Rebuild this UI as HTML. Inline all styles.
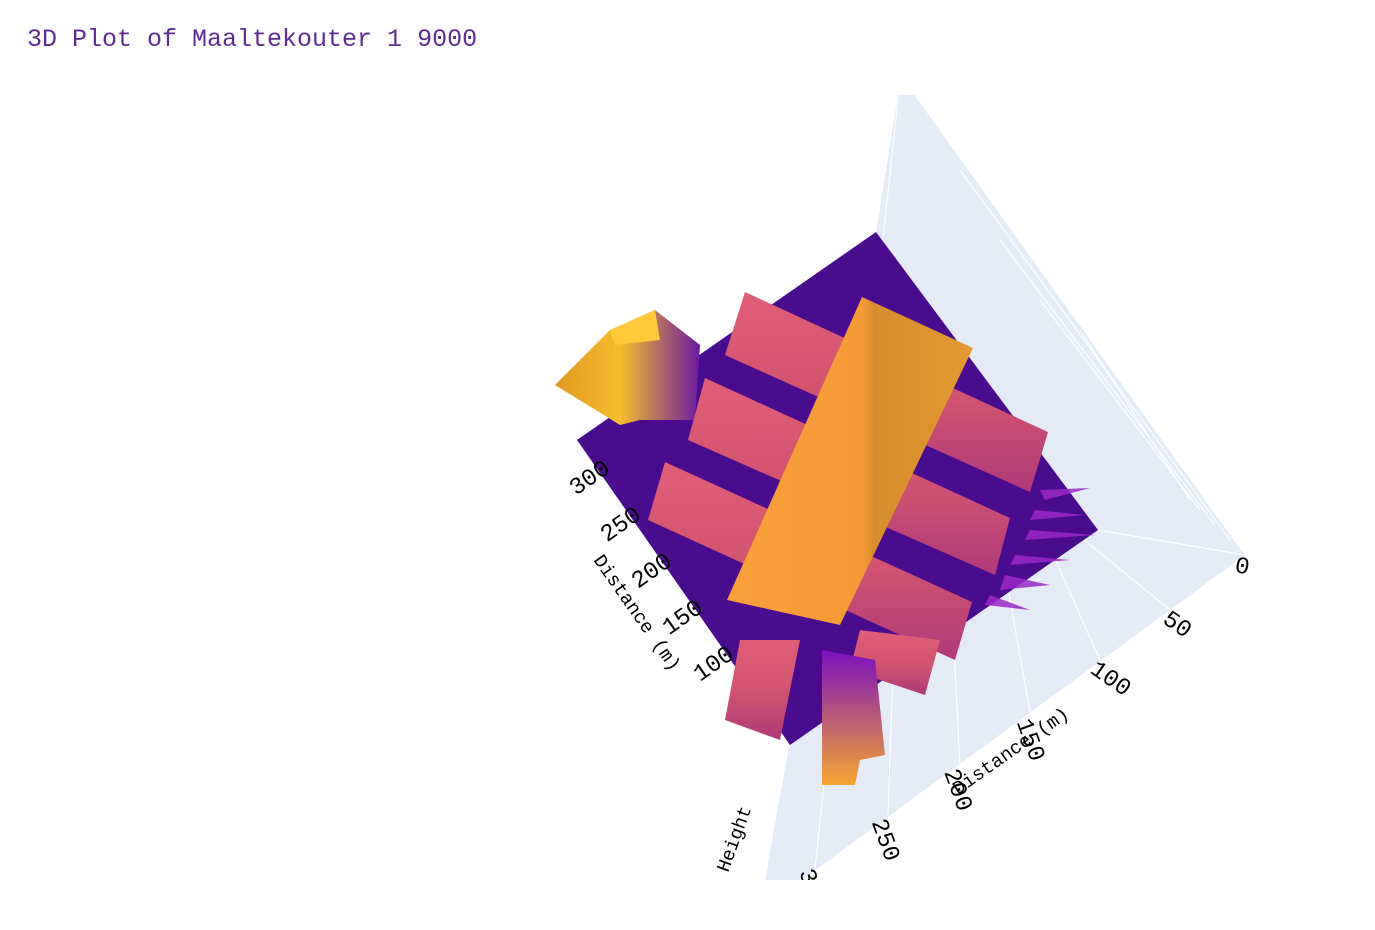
<!DOCTYPE html>
<html><head><meta charset="utf-8"><style>
body{margin:0;background:#fff;width:1375px;height:925px;overflow:hidden;font-family:"Liberation Mono",monospace}
</style></head><body>
<svg width="1375" height="925" xmlns="http://www.w3.org/2000/svg">
<defs>
<linearGradient id="og" x1="0" y1="0" x2="1" y2="0"><stop offset="0" stop-color="#f9a03a"/><stop offset="0.55" stop-color="#f59a36"/><stop offset="0.6" stop-color="#d58c2c"/><stop offset="1" stop-color="#e49a30"/></linearGradient>
<linearGradient id="pg" x1="0" y1="0" x2="0" y2="1"><stop offset="0" stop-color="#e05d76"/><stop offset="0.5" stop-color="#d3546f"/><stop offset="1" stop-color="#b0397a"/></linearGradient>
<linearGradient id="yg" x1="0" y1="0" x2="1" y2="0"><stop offset="0" stop-color="#e09a20"/><stop offset="0.45" stop-color="#f6bd2c"/><stop offset="1" stop-color="#6a1aa0"/></linearGradient>
<linearGradient id="sg" x1="0" y1="0" x2="0" y2="1"><stop offset="0" stop-color="#7a10c0"/><stop offset="1" stop-color="#f7a530"/></linearGradient>
<clipPath id="clip"><rect x="0" y="0" width="1375" height="880"/></clipPath>
</defs>
<text x="27" y="46" font-size="25" fill="#5c2d91" font-family="Liberation Mono, monospace">3D Plot of Maaltekouter 1 9000</text>
<g clip-path="url(#clip)">
<polygon points="898,95 915,95 1245,555 802,880 765,880 790,740 876,232" fill="#e5ebf6"/>
<g stroke="#fff" stroke-width="1" fill="none">
<line x1="1245" y1="555" x2="1098" y2="530"/><line x1="1170" y1="610" x2="1060" y2="520"/><line x1="1100" y1="660" x2="1020" y2="480"/><line x1="1030" y1="712" x2="980" y2="430"/><line x1="960" y1="765" x2="940" y2="380"/><line x1="888" y1="815" x2="905" y2="330"/><line x1="815" y1="868" x2="898" y2="100"/>
<line x1="915" y1="95" x2="1245" y2="555"/><line x1="960" y1="170" x2="1230" y2="540"/><line x1="1000" y1="240" x2="1215" y2="525"/><line x1="1040" y1="300" x2="1200" y2="510"/><line x1="1080" y1="330" x2="1190" y2="500"/>
</g>
<polygon points="876,232 1098,530 790,745 577,440" fill="#4a0c8f"/>
<polygon points="555,385 610,330 655,310 700,345 695,420 640,420 620,425" fill="url(#yg)"/>
<polygon points="610,330 655,310 660,340 615,345" fill="#ffc93a"/>
<g>
<polygon points="745,292 1048,432 1030,492 725,355" fill="url(#pg)"/>
<polygon points="705,378 1010,518 995,575 688,440" fill="url(#pg)"/>
<polygon points="665,462 972,602 955,660 648,520" fill="url(#pg)"/>
<polygon points="860,630 940,640 925,695 850,670" fill="url(#pg)"/>
<polygon points="740,640 800,640 780,740 725,720" fill="url(#pg)"/>
</g>
<polygon points="822,650 875,660 885,755 860,760 855,785 822,785" fill="url(#sg)"/>
<polygon points="862,297 973,348 840,625 727,600" fill="url(#og)"/>
<g fill="#9a28c8" opacity="0.85">
<polygon points="1040,490 1090,488 1045,500"/><polygon points="1035,510 1085,515 1030,520"/><polygon points="1030,530 1095,535 1025,540"/><polygon points="1015,555 1070,560 1010,565"/><polygon points="1005,575 1050,585 1000,590"/><polygon points="990,595 1030,610 985,605"/>
</g>
<g font-size="24" fill="#000" font-family="Liberation Mono, monospace" id="ticks"></g>
<text transform="translate(593,560) rotate(55)" font-size="19">Distance (m)</text>
<text transform="translate(958,795) rotate(-35)" font-size="19">Distance (m)</text>
<text transform="translate(728,873) rotate(-70)" font-size="19">Height</text>
</g>
</svg>
<script>
const xTicks=[0,50,100,150,200,250,300];
const yTicks=[100,150,200,250,300];
const g=document.getElementById('ticks');
const NS='http://www.w3.org/2000/svg';
function xPos(v){return [1234-v*1.45,572+v*1.0];}
function yPos(v){return [700-(v-100)*0.62,682-(v-100)*0.93];}
xTicks.forEach(v=>{const p=xPos(v);const t=document.createElementNS(NS,'text');
t.setAttribute('transform',`translate(${p[0]},${p[1]}) rotate(${v==0?10:(v>=150?70:35)})`);
t.textContent=v;


g.appendChild(t);});
yTicks.forEach(v=>{const p=yPos(v);const t=document.createElementNS(NS,'text');
t.setAttribute('transform',`translate(${p[0]},${p[1]}) rotate(-35)`);
t.textContent=v;


g.appendChild(t);});
</script>
</body></html>
